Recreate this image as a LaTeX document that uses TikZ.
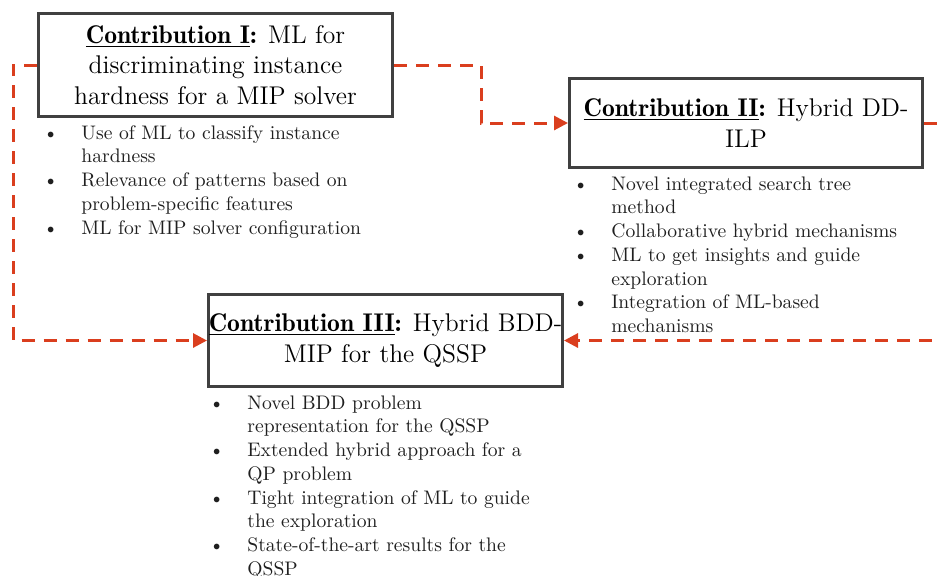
\documentclass[tikz,border=0pt]{standalone}
\usetikzlibrary{arrows.meta}
\definecolor{flowred}{RGB}{218,62,30}
\definecolor{boxgray}{RGB}{64,64,64}
% bullet item and continuation indent for the point lists
\newcommand\bitem{\makebox[15.5pt][l]{\hspace*{-3.6pt}\textbullet}}
\newcommand\bcont{\hspace*{15.5pt}}
\newcommand\ctitle[1]{{\fontseries{b}\selectfont\underline{#1}:}}
\begin{document}
\begin{tikzpicture}[x=0.5pt,y=-0.5pt,
  contrib/.style={draw=boxgray, line width=1.5pt, fill=white, inner sep=0pt,
    align=center, font=\fontsize{12.8}{15.25}\selectfont, text=black},
  flow/.style={draw=flowred, line width=1.5pt, dash pattern=on 6.5pt off 4.5pt,
    -{Triangle[length=7pt,width=7pt]}},
  points/.style={inner sep=0pt, anchor=base west,
    font=\fontsize{9.8}{11.85}\selectfont, text=black!88}]
\useasboundingbox (0,0) rectangle (939,575);

% contribution boxes
\node[contrib, minimum width=177pt, minimum height=51.5pt] (c1) at (215.5,65)
  {\ctitle{Contribution I} ML for\\discriminating instance\\hardness for a MIP solver};
\node[contrib, minimum width=176.5pt, minimum height=44.5pt] (c2) at (746,123)
  {\ctitle{Contribution II} Hybrid DD-\\ILP};
\node[contrib, minimum width=177pt, minimum height=46pt] (c3) at (385.5,340.5)
  {\ctitle{Contribution III} Hybrid BDD-\\MIP for the QSSP};

% key points under each box
\node[points] (p1) at (50,139.2) {\begin{tabular}[t]{@{}l@{}}
  \bitem Use of ML to classify instance\\
  \bcont hardness\\
  \bitem Relevance of patterns based on\\
  \bcont problem-specific features\\
  \bitem ML for MIP solver configuration
\end{tabular}};
\node[points] (p2) at (580,190.2) {\begin{tabular}[t]{@{}l@{}}
  \bitem Novel integrated search tree\\
  \bcont method\\
  \bitem Collaborative hybrid mechanisms\\
  \bitem ML to get insights and guide\\
  \bcont exploration\\
  \bitem Integration of ML-based\\
  \bcont mechanisms
\end{tabular}};
\node[points] (p3) at (216,409.2) {\begin{tabular}[t]{@{}l@{}}
  \bitem Novel BDD problem\\
  \bcont representation for the QSSP\\
  \bitem Extended hybrid approach for a\\
  \bcont QP problem\\
  \bitem Tight integration of ML to guide\\
  \bcont the exploration\\
  \bitem State-of-the-art results for the\\
  \bcont QSSP
\end{tabular}};

% dashed flows between the contributions
\draw[flow] (c1.west) -- ++(-24,0) |- (c3.west);
\draw[flow] (c1.east) -- ++(87,0) |- (c2.west);
\draw[flow] (c2.east) -- ++(60,0) |- (c3.east);
\end{tikzpicture}
\end{document}
